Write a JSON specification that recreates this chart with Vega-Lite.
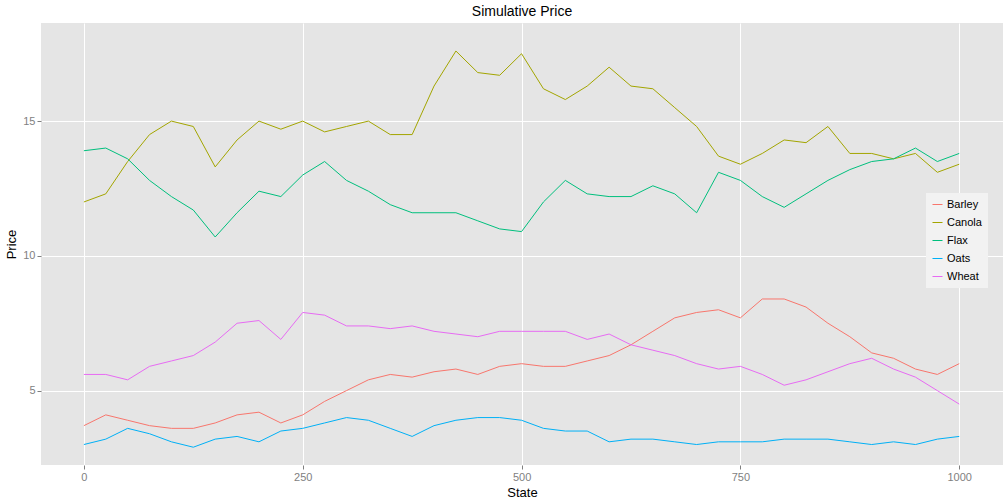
{
  "$schema": "https://vega.github.io/schema/vega-lite/v6.json",
  "width": 1008,
  "height": 504,
  "autosize": {"type": "fit", "contains": "padding"},
  "padding": {"left": 5, "right": 5, "top": 5, "bottom": 5},
  "background": "white",
  "title": {"text": "Simulative Price", "fontSize": 14, "fontWeight": "normal", "font": "Liberation Sans", "color": "black"},
  "config": {
    "view": {"fill": "#E5E5E5", "stroke": null},
    "axis": {"gridColor": "white", "gridWidth": 1, "domain": false, "tickColor": "#7F7F7F", "tickSize": 4, "labelColor": "#7F7F7F", "labelFont": "Liberation Sans", "labelFontSize": 11, "titleFont": "Liberation Sans", "titleFontSize": 13, "titleFontWeight": "normal", "titleColor": "black"},
    "legend": {"labelFont": "Liberation Sans", "labelFontSize": 11, "fillColor": "#F2F2F2", "padding": 6, "symbolType": "stroke", "symbolStrokeWidth": 1, "rowPadding": 6}
  },
  "data": {
    "values": [
      {"State": 0, "Barley": 3.7, "Canola": 12.0, "Flax": 13.9, "Oats": 3.0, "Wheat": 5.6},
      {"State": 25, "Barley": 4.1, "Canola": 12.3, "Flax": 14.0, "Oats": 3.2, "Wheat": 5.6},
      {"State": 50, "Barley": 3.9, "Canola": 13.5, "Flax": 13.6, "Oats": 3.6, "Wheat": 5.4},
      {"State": 75, "Barley": 3.7, "Canola": 14.5, "Flax": 12.8, "Oats": 3.4, "Wheat": 5.9},
      {"State": 100, "Barley": 3.6, "Canola": 15.0, "Flax": 12.2, "Oats": 3.1, "Wheat": 6.1},
      {"State": 125, "Barley": 3.6, "Canola": 14.8, "Flax": 11.7, "Oats": 2.9, "Wheat": 6.3},
      {"State": 150, "Barley": 3.8, "Canola": 13.3, "Flax": 10.7, "Oats": 3.2, "Wheat": 6.8},
      {"State": 175, "Barley": 4.1, "Canola": 14.3, "Flax": 11.6, "Oats": 3.3, "Wheat": 7.5},
      {"State": 200, "Barley": 4.2, "Canola": 15.0, "Flax": 12.4, "Oats": 3.1, "Wheat": 7.6},
      {"State": 225, "Barley": 3.8, "Canola": 14.7, "Flax": 12.2, "Oats": 3.5, "Wheat": 6.9},
      {"State": 250, "Barley": 4.1, "Canola": 15.0, "Flax": 13.0, "Oats": 3.6, "Wheat": 7.9},
      {"State": 275, "Barley": 4.6, "Canola": 14.6, "Flax": 13.5, "Oats": 3.8, "Wheat": 7.8},
      {"State": 300, "Barley": 5.0, "Canola": 14.8, "Flax": 12.8, "Oats": 4.0, "Wheat": 7.4},
      {"State": 325, "Barley": 5.4, "Canola": 15.0, "Flax": 12.4, "Oats": 3.9, "Wheat": 7.4},
      {"State": 350, "Barley": 5.6, "Canola": 14.5, "Flax": 11.9, "Oats": 3.6, "Wheat": 7.3},
      {"State": 375, "Barley": 5.5, "Canola": 14.5, "Flax": 11.6, "Oats": 3.3, "Wheat": 7.4},
      {"State": 400, "Barley": 5.7, "Canola": 16.3, "Flax": 11.6, "Oats": 3.7, "Wheat": 7.2},
      {"State": 425, "Barley": 5.8, "Canola": 17.6, "Flax": 11.6, "Oats": 3.9, "Wheat": 7.1},
      {"State": 450, "Barley": 5.6, "Canola": 16.8, "Flax": 11.3, "Oats": 4.0, "Wheat": 7.0},
      {"State": 475, "Barley": 5.9, "Canola": 16.7, "Flax": 11.0, "Oats": 4.0, "Wheat": 7.2},
      {"State": 500, "Barley": 6.0, "Canola": 17.5, "Flax": 10.9, "Oats": 3.9, "Wheat": 7.2},
      {"State": 525, "Barley": 5.9, "Canola": 16.2, "Flax": 12.0, "Oats": 3.6, "Wheat": 7.2},
      {"State": 550, "Barley": 5.9, "Canola": 15.8, "Flax": 12.8, "Oats": 3.5, "Wheat": 7.2},
      {"State": 575, "Barley": 6.1, "Canola": 16.3, "Flax": 12.3, "Oats": 3.5, "Wheat": 6.9},
      {"State": 600, "Barley": 6.3, "Canola": 17.0, "Flax": 12.2, "Oats": 3.1, "Wheat": 7.1},
      {"State": 625, "Barley": 6.7, "Canola": 16.3, "Flax": 12.2, "Oats": 3.2, "Wheat": 6.7},
      {"State": 650, "Barley": 7.2, "Canola": 16.2, "Flax": 12.6, "Oats": 3.2, "Wheat": 6.5},
      {"State": 675, "Barley": 7.7, "Canola": 15.5, "Flax": 12.3, "Oats": 3.1, "Wheat": 6.3},
      {"State": 700, "Barley": 7.9, "Canola": 14.8, "Flax": 11.6, "Oats": 3.0, "Wheat": 6.0},
      {"State": 725, "Barley": 8.0, "Canola": 13.7, "Flax": 13.1, "Oats": 3.1, "Wheat": 5.8},
      {"State": 750, "Barley": 7.7, "Canola": 13.4, "Flax": 12.8, "Oats": 3.1, "Wheat": 5.9},
      {"State": 775, "Barley": 8.4, "Canola": 13.8, "Flax": 12.2, "Oats": 3.1, "Wheat": 5.6},
      {"State": 800, "Barley": 8.4, "Canola": 14.3, "Flax": 11.8, "Oats": 3.2, "Wheat": 5.2},
      {"State": 825, "Barley": 8.1, "Canola": 14.2, "Flax": 12.3, "Oats": 3.2, "Wheat": 5.4},
      {"State": 850, "Barley": 7.5, "Canola": 14.8, "Flax": 12.8, "Oats": 3.2, "Wheat": 5.7},
      {"State": 875, "Barley": 7.0, "Canola": 13.8, "Flax": 13.2, "Oats": 3.1, "Wheat": 6.0},
      {"State": 900, "Barley": 6.4, "Canola": 13.8, "Flax": 13.5, "Oats": 3.0, "Wheat": 6.2},
      {"State": 925, "Barley": 6.2, "Canola": 13.6, "Flax": 13.6, "Oats": 3.1, "Wheat": 5.8},
      {"State": 950, "Barley": 5.8, "Canola": 13.8, "Flax": 14.0, "Oats": 3.0, "Wheat": 5.5},
      {"State": 975, "Barley": 5.6, "Canola": 13.1, "Flax": 13.5, "Oats": 3.2, "Wheat": 5.0},
      {"State": 1000, "Barley": 6.0, "Canola": 13.4, "Flax": 13.8, "Oats": 3.3, "Wheat": 4.5}
    ]
  },
  "transform": [
    {"fold": ["Barley", "Canola", "Flax", "Oats", "Wheat"], "as": ["Crop", "Price"]}
  ],
  "mark": {"type": "line", "strokeWidth": 1},
  "encoding": {
    "x": {"field": "State", "type": "quantitative", "scale": {"domain": [-49, 1050], "nice": false, "zero": false}, "axis": {"values": [0, 250, 500, 750, 1000], "format": "d", "title": "State"}},
    "y": {"field": "Price", "type": "quantitative", "scale": {"domain": [2.24, 18.64], "nice": false, "zero": false}, "axis": {"values": [5, 10, 15], "title": "Price"}},
    "color": {"field": "Crop", "type": "nominal", "scale": {"domain": ["Barley", "Canola", "Flax", "Oats", "Wheat"], "range": ["#F8766D", "#A3A500", "#00BF7D", "#00B0F6", "#E76BF3"]}, "legend": {"title": null, "orient": "none", "legendX": 885, "legendY": 170}}
  }
}
